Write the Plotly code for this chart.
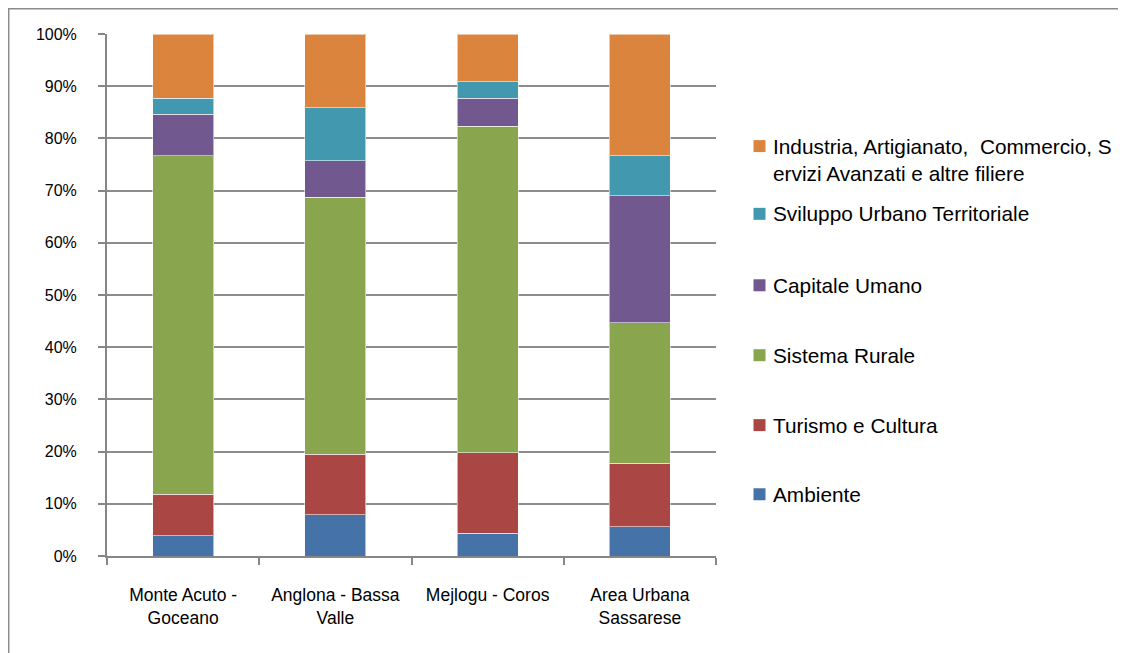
import plotly.graph_objects as go

categories = ["Monte Acuto -<br>Goceano", "Anglona - Bassa<br>Valle", "Mejlogu - Coros", "Area Urbana<br>Sassarese"]

ambiente = [3.9, 7.9, 4.4, 5.6]
turismo = [7.9, 11.6, 15.4, 12.2]
rurale = [64.9, 49.2, 62.5, 26.9]
capitale = [7.9, 7.0, 5.4, 24.3]
sviluppo = [3.1, 10.2, 3.2, 7.7]
industria = [12.3, 14.1, 9.1, 23.3]

series_names = ["Ambiente", "Turismo e Cultura", "Sistema Rurale", "Capitale Umano",
                "Sviluppo Urbano Territoriale",
                "Industria, Artigianato,  Commercio, S<br>ervizi Avanzati e altre filiere"]
series_values = [ambiente, turismo, rurale, capitale, sviluppo, industria]
colors = ["#4572A7", "#AA4643", "#89A54E", "#71588F", "#4198AF", "#DB843D"]

y_ticks = [0, 10, 20, 30, 40, 50, 60, 70, 80, 90, 100]
y_tick_labels = ["0%", "10%", "20%", "30%", "40%", "50%", "60%", "70%", "80%", "90%", "100%"]

FONT = "Liberation Sans"
TXT = "#000000"

fig = go.Figure()
for name, vals, col in zip(series_names, series_values, colors):
    fig.add_trace(go.Bar(
        x=categories, y=vals, name=name,
        marker=dict(color=col, line=dict(color="rgba(255,255,255,0.55)", width=1)),
        showlegend=False,
    ))

# page offset from the html body margin
OFF = 8
W, H = 1126 - OFF, 653 - OFF
# plot area in page pixels
Lp, Rp, Tp, Bp = 107, 716, 34, 556.5
L, R, T, B = Lp - OFF, Rp - OFF, Tp - OFF, Bp - OFF

def px_x(p):
    return (p - Lp) / (Rp - Lp)

def px_y(q):
    return (Bp - q) / (Bp - Tp)

# manual legend (top item = last series)
legend_centers = [494.7, 425.5, 355.5, 285.5, 214.0, 160.3]
square_centers = [494.7, 425.5, 355.5, 285.5, 214.0, 146.2]
shapes = []
annotations = []
for name, col, yc, ys in zip(series_names, colors, legend_centers, square_centers):
    shapes.append(dict(type="rect", xref="paper", yref="paper",
                       x0=px_x(753.5), x1=px_x(765.5), y0=px_y(ys - 6), y1=px_y(ys + 6),
                       fillcolor=col, line=dict(width=0)))
    annotations.append(dict(xref="paper", yref="paper", x=px_x(771), y=px_y(yc),
                            xanchor="left", yanchor="middle", text=name, showarrow=False,
                            align="left", font=dict(family=FONT, size=20.8, color=TXT)))

# outer chart border (left and top visible)
shapes.append(dict(type="rect", xref="paper", yref="paper", layer="below",
                   x0=px_x(8.7), x1=px_x(1200), y0=px_y(700), y1=px_y(8.7),
                   line=dict(color="#8a8a8a", width=1.5), fillcolor="rgba(0,0,0,0)"))

fig.update_layout(
    width=W, height=H,
    margin=dict(l=L, r=W - R, t=T, b=H - B, pad=0),
    barmode="stack", bargap=0.6,
    plot_bgcolor="white", paper_bgcolor="white",
    shapes=shapes, annotations=annotations,
    font=dict(family=FONT, color=TXT),
)
fig.update_xaxes(
    type="category", showline=True, linecolor="#868686", linewidth=2,
    ticks="outside", tickson="boundaries", ticklen=7, tickcolor="#868686", tickwidth=1.5,
    tickfont=dict(family=FONT, size=17.5, color=TXT), ticklabelstandoff=22,
    showgrid=False,
)
fig.update_yaxes(
    range=[0, 100], tickmode="array", tickvals=y_ticks, ticktext=y_tick_labels,
    showline=True, linecolor="#868686", linewidth=2,
    ticks="outside", ticklen=7, tickcolor="#868686", tickwidth=1.5,
    tickfont=dict(family=FONT, size=16, color=TXT), ticklabelstandoff=18,
    showgrid=True, gridcolor="#8c8c8c", gridwidth=1.5, zeroline=False,
)

fig.write_html("out.html")
